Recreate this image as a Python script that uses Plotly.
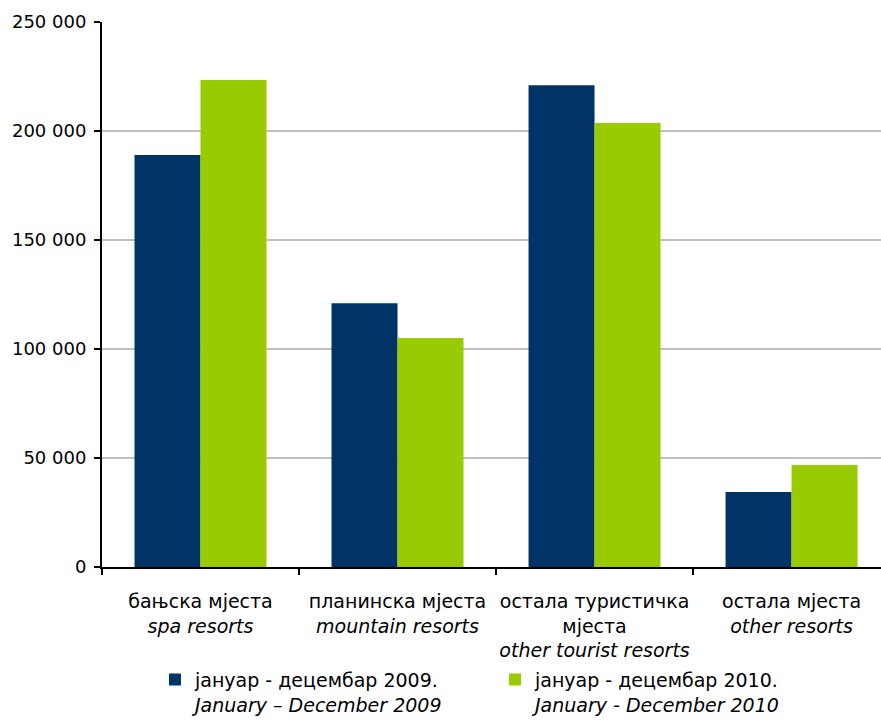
import plotly.graph_objects as go

categories = [
    "бањска мјеста<br><i>spa resorts</i>",
    "планинска мјеста<br><i>mountain resorts</i>",
    "остала туристичка<br>мјеста<br><i>other tourist resorts</i>",
    "остала мјеста<br><i>other resorts</i>",
]
values_2009 = [189000, 121000, 221000, 34400]
values_2010 = [223400, 105000, 203700, 46800]
series_names = [
    "јануар - децембар 2009.<br><i>January – December 2009</i>",
    "јануар - децембар 2010.<br><i>January - December 2010</i>",
]
y_ticks = [0, 50000, 100000, 150000, 200000, 250000]

FONT = "DejaVu Sans"

fig = go.Figure()
fig.add_trace(go.Bar(x=categories, y=values_2009, name=series_names[0],
                     marker=dict(color="#003366", line=dict(width=0))))
fig.add_trace(go.Bar(x=categories, y=values_2010, name=series_names[1],
                     marker=dict(color="#99cc00", line=dict(width=0))))

fig.update_layout(
    width=881, height=724,
    margin=dict(l=102, r=0, t=22, b=157),
    paper_bgcolor="white", plot_bgcolor="white",
    font=dict(family=FONT, size=19, color="#000000"),
    barmode="group", bargap=0.33, bargroupgap=0,
    separators=". ",
    showlegend=True,
    legend=dict(orientation="h", x=0.068, xanchor="left", y=-0.2875, yanchor="bottom",
                entrywidth=295, entrywidthmode="pixels", valign="top",
                font=dict(family=FONT, size=19), itemwidth=30,
                traceorder="normal"),
)
fig.update_xaxes(
    type="category", range=[-0.5, 3.454], automargin=False,
    showline=True, linecolor="#000000", linewidth=2,
    ticks="outside", tickson="boundaries", ticklen=6, tickwidth=2, tickcolor="#000000",
    ticklabelstandoff=16, tickangle=0,
    showgrid=False, tickfont=dict(family=FONT, size=19),
)
fig.update_yaxes(
    range=[0, 250000], tickvals=y_ticks, tickformat=",d", automargin=False,
    showline=True, linecolor="#000000", linewidth=2,
    ticks="outside", ticklen=6, tickwidth=2, tickcolor="#000000",
    ticklabelstandoff=4,
    showgrid=True, gridcolor="#c0c0c0", gridwidth=2,
    zeroline=False, tickfont=dict(family=FONT, size=18),
)

fig.write_html(
    "out.html",
    config={"displayModeBar": False},
    post_script="document.body.style.margin='0px';document.body.style.overflow='hidden';",
)
